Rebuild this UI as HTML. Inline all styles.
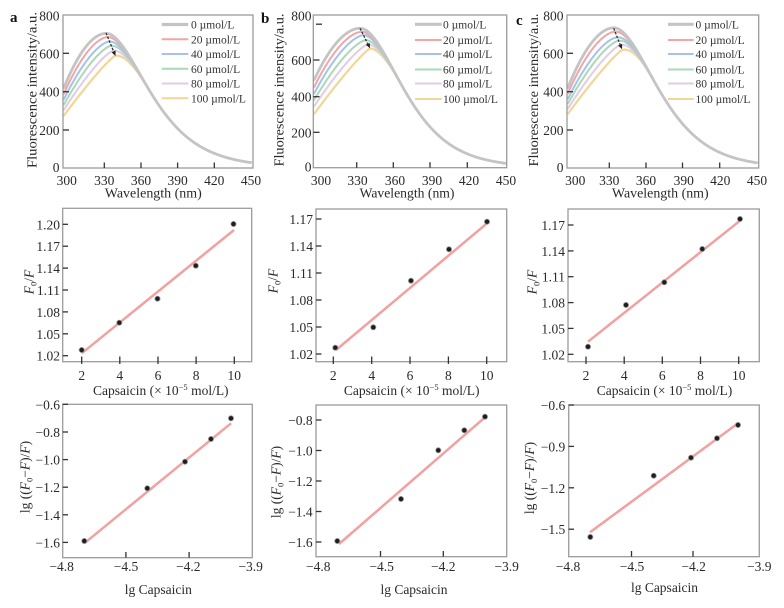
<!DOCTYPE html>
<html><head><meta charset="utf-8">
<style>
html,body{margin:0;padding:0;background:#fff;}
svg{display:block;font-family:"Liberation Serif",serif;}
.t{font-size:13.5px;fill:#2a2a2a;}
.ti{font-size:13.5px;fill:#2a2a2a;}
.lg{font-size:11.5px;fill:#333;}
.pl{font-size:15px;font-weight:bold;fill:#111;}
.box{fill:none;stroke:#9c9c9c;stroke-width:1.3;}
.tk{stroke:#333;stroke-width:1.3;}
.fit{stroke:#f2a0a0;stroke-width:2.5;}
.pt{fill:#1e1e1e;stroke:#9a9a9a;stroke-width:0.8;}
</style></head><body>
<svg id="s" width="784" height="608" viewBox="0 0 784 608" xmlns="http://www.w3.org/2000/svg">
<rect x="0" y="0" width="784" height="608" fill="#fff"/>
<g id="curves"></g>

<!-- ============ TOP ROW ============ -->
<!-- panel a -->
<text class="pl" x="10" y="22">a</text>
<rect class="box" x="63" y="15" width="190" height="153"/>
<g class="tk">
<line x1="63" y1="53.3" x2="69" y2="53.3"/><line x1="63" y1="91.7" x2="69" y2="91.7"/><line x1="63" y1="130" x2="69" y2="130"/>
<line x1="104.3" y1="162.5" x2="104.3" y2="168"/><line x1="141" y1="162.5" x2="141" y2="168"/><line x1="177.6" y1="162.5" x2="177.6" y2="168"/><line x1="214.3" y1="162.5" x2="214.3" y2="168"/>
</g>
<g class="t" text-anchor="end">
<text x="59.5" y="20.7">800</text><text x="59.5" y="58.3">600</text><text x="59.5" y="96.7">400</text><text x="59.5" y="135">200</text><text x="59.5" y="172">0</text>
</g>
<g class="t" text-anchor="middle">
<text x="66.7" y="185">300</text><text x="104.3" y="185">330</text><text x="141" y="185">360</text><text x="177.6" y="185">390</text><text x="214.3" y="185">420</text><text x="251" y="185">450</text>
</g>
<text class="ti" x="153.3" y="197.5" text-anchor="middle" textLength="97" lengthAdjust="spacingAndGlyphs">Wavelength (nm)</text>
<text class="ti" transform="translate(36.5,90) rotate(-90)" text-anchor="middle" textLength="156" lengthAdjust="spacingAndGlyphs">Fluorescence intensity/a.u.</text>
<g stroke-width="2">
<line x1="161.7" y1="24.5" x2="188.3" y2="24.5" stroke="#c4c4c4" stroke-width="3.2"/>
<line x1="161.7" y1="39.3" x2="188.3" y2="39.3" stroke="#f3a5a5"/>
<line x1="161.7" y1="54" x2="188.3" y2="54" stroke="#a5c3ea"/>
<line x1="161.7" y1="68.8" x2="188.3" y2="68.8" stroke="#a9d9b5"/>
<line x1="161.7" y1="83.5" x2="188.3" y2="83.5" stroke="#e3cbe6"/>
<line x1="161.7" y1="98.3" x2="188.3" y2="98.3" stroke="#f1d696"/>
</g>
<g class="lg">
<text x="191" y="28.5">0 µmol/L</text><text x="191" y="43.3">20 µmol/L</text><text x="191" y="58">40 µmol/L</text><text x="191" y="72.8">60 µmol/L</text><text x="191" y="87.5">80 µmol/L</text><text x="191" y="102.3">100 µmol/L</text>
</g>

<!-- panel b -->
<text class="pl" x="261" y="23">b</text>
<rect class="box" x="313.3" y="15" width="193.4" height="152.7"/>
<g class="tk">
<line x1="316" y1="24.2" x2="322" y2="24.2"/><line x1="313.3" y1="60" x2="319.5" y2="60"/><line x1="313.3" y1="96.7" x2="319.5" y2="96.7"/><line x1="313.3" y1="132.3" x2="319.5" y2="132.3"/>
<line x1="356.7" y1="162.2" x2="356.7" y2="167.7"/><line x1="393.3" y1="162.2" x2="393.3" y2="167.7"/><line x1="430" y1="162.2" x2="430" y2="167.7"/><line x1="467.3" y1="162.2" x2="467.3" y2="167.7"/>
</g>
<g class="t" text-anchor="end">
<text x="311.5" y="20.7">800</text><text x="311.5" y="65">600</text><text x="311.5" y="101.7">400</text><text x="311.5" y="137.3">200</text><text x="311.5" y="171.7">0</text>
</g>
<g class="t" text-anchor="middle">
<text x="321" y="185">300</text><text x="357.5" y="185">330</text><text x="395" y="185">360</text><text x="432" y="185">390</text><text x="469" y="185">420</text><text x="506" y="185">450</text>
</g>
<text class="ti" x="407" y="197.5" text-anchor="middle" textLength="95" lengthAdjust="spacingAndGlyphs">Wavelength (nm)</text>
<text class="ti" transform="translate(283.5,90) rotate(-90)" text-anchor="middle" textLength="153" lengthAdjust="spacingAndGlyphs">Fluorescence intensity/a.u.</text>
<g stroke-width="2">
<line x1="415" y1="24.3" x2="441.7" y2="24.3" stroke="#c4c4c4" stroke-width="3.2"/>
<line x1="415" y1="40" x2="441.7" y2="40" stroke="#f3a5a5"/>
<line x1="415" y1="54" x2="441.7" y2="54" stroke="#a5c3ea"/>
<line x1="415" y1="69.5" x2="441.7" y2="69.5" stroke="#a9d9b5"/>
<line x1="415" y1="83.5" x2="441.7" y2="83.5" stroke="#e3cbe6"/>
<line x1="415" y1="99" x2="441.7" y2="99" stroke="#f1d696"/>
</g>
<g class="lg">
<text x="443" y="28.3">0 µmol/L</text><text x="443" y="44">20 µmol/L</text><text x="443" y="58">40 µmol/L</text><text x="443" y="73.5">60 µmol/L</text><text x="443" y="87.5">80 µmol/L</text><text x="443" y="103">100 µmol/L</text>
</g>

<!-- panel c -->
<text class="pl" x="516" y="25">c</text>
<rect class="box" x="567" y="15" width="191.7" height="153"/>
<g class="tk">
<line x1="567" y1="53.3" x2="573" y2="53.3"/><line x1="567" y1="91.7" x2="573" y2="91.7"/><line x1="567" y1="130" x2="573" y2="130"/>
<line x1="609.3" y1="162.5" x2="609.3" y2="168"/><line x1="646" y1="162.5" x2="646" y2="168"/><line x1="682.5" y1="162.5" x2="682.5" y2="168"/><line x1="719.7" y1="162.5" x2="719.7" y2="168"/>
</g>
<g class="t" text-anchor="end">
<text x="563.5" y="20.7">800</text><text x="563.5" y="58.3">600</text><text x="563.5" y="96.7">400</text><text x="563.5" y="135">200</text><text x="563.5" y="172">0</text>
</g>
<g class="t" text-anchor="middle">
<text x="575.3" y="185">300</text><text x="609.3" y="185">330</text><text x="646" y="185">360</text><text x="683.7" y="185">390</text><text x="720.3" y="185">420</text><text x="757" y="185">450</text>
</g>
<text class="ti" x="660.3" y="197.5" text-anchor="middle" textLength="96.7" lengthAdjust="spacingAndGlyphs">Wavelength (nm)</text>
<text class="ti" transform="translate(538,90) rotate(-90)" text-anchor="middle" textLength="153" lengthAdjust="spacingAndGlyphs">Fluorescence intensity/a.u.</text>
<g stroke-width="2">
<line x1="668" y1="24.3" x2="693.7" y2="24.3" stroke="#c4c4c4" stroke-width="3.2"/>
<line x1="668" y1="40" x2="693.7" y2="40" stroke="#f3a5a5"/>
<line x1="668" y1="54" x2="693.7" y2="54" stroke="#a5c3ea"/>
<line x1="668" y1="69.5" x2="693.7" y2="69.5" stroke="#a9d9b5"/>
<line x1="668" y1="83.5" x2="693.7" y2="83.5" stroke="#e3cbe6"/>
<line x1="668" y1="99" x2="693.7" y2="99" stroke="#f1d696"/>
</g>
<g class="lg">
<text x="695.5" y="28.3">0 µmol/L</text><text x="695.5" y="44">20 µmol/L</text><text x="695.5" y="58">40 µmol/L</text><text x="695.5" y="73.5">60 µmol/L</text><text x="695.5" y="87.5">80 µmol/L</text><text x="695.5" y="103">100 µmol/L</text>
</g>

<!-- ============ MIDDLE ROW ============ -->
<!-- a -->
<rect class="box" x="62.7" y="208.3" width="189" height="153.4"/>
<g class="tk">
<line x1="62.7" y1="224.3" x2="68" y2="224.3"/><line x1="62.7" y1="246.2" x2="68" y2="246.2"/><line x1="62.7" y1="268.1" x2="68" y2="268.1"/><line x1="62.7" y1="290" x2="68" y2="290"/><line x1="62.7" y1="311.9" x2="68" y2="311.9"/><line x1="62.7" y1="333.8" x2="68" y2="333.8"/><line x1="62.7" y1="355.7" x2="68" y2="355.7"/>
<line x1="81.7" y1="356.5" x2="81.7" y2="364"/><line x1="119.8" y1="356.5" x2="119.8" y2="364"/><line x1="158" y1="356.5" x2="158" y2="364"/><line x1="196.1" y1="356.5" x2="196.1" y2="364"/><line x1="234.3" y1="356.5" x2="234.3" y2="364"/>
</g>
<g class="t" text-anchor="end">
<text x="60" y="229.3">1.20</text><text x="60" y="251.2">1.17</text><text x="60" y="273.1">1.14</text><text x="60" y="295">1.11</text><text x="60" y="316.9">1.08</text><text x="60" y="338.8">1.05</text><text x="60" y="360.7">1.02</text>
</g>
<g class="t" text-anchor="middle">
<text x="81.7" y="380">2</text><text x="119.8" y="380">4</text><text x="158" y="380">6</text><text x="196.1" y="380">8</text><text x="234.3" y="380">10</text>
</g>
<text class="ti" x="160.8" y="395" text-anchor="middle">Capsaicin (× 10<tspan font-size="8.5" dy="-5">−5</tspan><tspan dy="5"> mol/L)</tspan></text>
<text class="ti" transform="translate(33.5,282) rotate(-90)" text-anchor="middle"><tspan font-style="italic">F</tspan><tspan font-size="8.5" dy="3">0</tspan><tspan dy="-3">/</tspan><tspan font-style="italic">F</tspan></text>
<line class="fit" x1="81.7" y1="353.3" x2="234" y2="230"/>
<g class="pt">
<circle cx="81.7" cy="350" r="2.6"/><circle cx="119.3" cy="322.7" r="2.6"/><circle cx="157.5" cy="298.7" r="2.6"/><circle cx="195.8" cy="265.7" r="2.6"/><circle cx="233.5" cy="224" r="2.6"/>
</g>

<!-- b -->
<rect class="box" x="316" y="209" width="190.7" height="152.7"/>
<g class="tk">
<line x1="316" y1="219" x2="321.5" y2="219"/><line x1="316" y1="246" x2="321.5" y2="246"/><line x1="316" y1="273" x2="321.5" y2="273"/><line x1="316" y1="300" x2="321.5" y2="300"/><line x1="316" y1="327" x2="321.5" y2="327"/><line x1="316" y1="354" x2="321.5" y2="354"/>
<line x1="333.3" y1="356.5" x2="333.3" y2="364"/><line x1="371.7" y1="356.5" x2="371.7" y2="364"/><line x1="410" y1="356.5" x2="410" y2="364"/><line x1="448.4" y1="356.5" x2="448.4" y2="364"/><line x1="486.7" y1="356.5" x2="486.7" y2="364"/>
</g>
<g class="t" text-anchor="end">
<text x="313" y="224">1.17</text><text x="313" y="251">1.14</text><text x="313" y="278">1.11</text><text x="313" y="305">1.08</text><text x="313" y="332">1.05</text><text x="313" y="359">1.02</text>
</g>
<g class="t" text-anchor="middle">
<text x="333.3" y="380">2</text><text x="371.7" y="380">4</text><text x="410" y="380">6</text><text x="448.4" y="380">8</text><text x="486.7" y="380">10</text>
</g>
<text class="ti" x="411.7" y="395" text-anchor="middle">Capsaicin (× 10<tspan font-size="8.5" dy="-5">−5</tspan><tspan dy="5"> mol/L)</tspan></text>
<text class="ti" transform="translate(277.5,281) rotate(-90)" text-anchor="middle"><tspan font-style="italic">F</tspan><tspan font-size="8.5" dy="3">0</tspan><tspan dy="-3">/</tspan><tspan font-style="italic">F</tspan></text>
<line class="fit" x1="336" y1="350" x2="487" y2="223.3"/>
<g class="pt">
<circle cx="335.3" cy="347.7" r="2.6"/><circle cx="373.3" cy="327.3" r="2.6"/><circle cx="411" cy="280.7" r="2.6"/><circle cx="449" cy="249.3" r="2.6"/><circle cx="487" cy="221.7" r="2.6"/>
</g>

<!-- c -->
<rect class="box" x="568" y="209" width="191.3" height="152.7"/>
<g class="tk">
<line x1="568" y1="225" x2="573.5" y2="225"/><line x1="568" y1="250.9" x2="573.5" y2="250.9"/><line x1="568" y1="276.7" x2="573.5" y2="276.7"/><line x1="568" y1="302.6" x2="573.5" y2="302.6"/><line x1="568" y1="328.4" x2="573.5" y2="328.4"/><line x1="568" y1="354.3" x2="573.5" y2="354.3"/>
<line x1="586" y1="356.5" x2="586" y2="364"/><line x1="624.2" y1="356.5" x2="624.2" y2="364"/><line x1="662.3" y1="356.5" x2="662.3" y2="364"/><line x1="700.5" y1="356.5" x2="700.5" y2="364"/><line x1="738.7" y1="356.5" x2="738.7" y2="364"/>
</g>
<g class="t" text-anchor="end">
<text x="565" y="230">1.17</text><text x="565" y="255.9">1.14</text><text x="565" y="281.7">1.11</text><text x="565" y="307.6">1.08</text><text x="565" y="333.4">1.05</text><text x="565" y="359.3">1.02</text>
</g>
<g class="t" text-anchor="middle">
<text x="586" y="380">2</text><text x="624.2" y="380">4</text><text x="662.3" y="380">6</text><text x="700.5" y="380">8</text><text x="738.7" y="380">10</text>
</g>
<text class="ti" x="664.5" y="395" text-anchor="middle">Capsaicin (× 10<tspan font-size="8.5" dy="-5">−5</tspan><tspan dy="5"> mol/L)</tspan></text>
<text class="ti" transform="translate(536.5,282) rotate(-90)" text-anchor="middle"><tspan font-style="italic">F</tspan><tspan font-size="8.5" dy="3">0</tspan><tspan dy="-3">/</tspan><tspan font-style="italic">F</tspan></text>
<line class="fit" x1="588" y1="341.7" x2="740" y2="220.7"/>
<g class="pt">
<circle cx="588" cy="346.7" r="2.6"/><circle cx="626" cy="305" r="2.6"/><circle cx="664.3" cy="282.3" r="2.6"/><circle cx="702.3" cy="249" r="2.6"/><circle cx="740" cy="219" r="2.6"/>
</g>

<!-- ============ BOTTOM ROW ============ -->
<!-- a -->
<rect class="box" x="62.7" y="404.3" width="189.6" height="153.4"/>
<g class="tk">
<line x1="62.7" y1="404.3" x2="68" y2="404.3"/><line x1="62.7" y1="432" x2="68" y2="432"/><line x1="62.7" y1="459.6" x2="68" y2="459.6"/><line x1="62.7" y1="487.2" x2="68" y2="487.2"/><line x1="62.7" y1="514.8" x2="68" y2="514.8"/><line x1="62.7" y1="542.4" x2="68" y2="542.4"/>
<line x1="125.9" y1="552" x2="125.9" y2="557.7"/><line x1="189.1" y1="552" x2="189.1" y2="557.7"/>
</g>
<g class="t" text-anchor="end">
<text x="60" y="409.3">−0.6</text><text x="60" y="437">−0.8</text><text x="60" y="464.6">−1.0</text><text x="60" y="492.2">−1.2</text><text x="60" y="519.8">−1.4</text><text x="60" y="547.4">−1.6</text>
</g>
<g class="t" text-anchor="middle">
<text x="61.7" y="571">−4.8</text><text x="126" y="571">−4.5</text><text x="188.3" y="571">−4.2</text><text x="250.7" y="571">−3.9</text>
</g>
<text class="ti" x="158.3" y="594" text-anchor="middle">lg Capsaicin</text>
<text class="ti" transform="translate(29.5,477) rotate(-90)" text-anchor="middle">lg ((<tspan font-style="italic">F</tspan><tspan font-size="8.5" dy="3">0</tspan><tspan dy="-3">−</tspan><tspan font-style="italic">F</tspan>)/<tspan font-style="italic">F</tspan>)</text>
<line class="fit" x1="84.3" y1="543.3" x2="231" y2="423.3"/>
<g class="pt">
<circle cx="84.3" cy="541" r="2.6"/><circle cx="147.3" cy="488.3" r="2.6"/><circle cx="185" cy="461.7" r="2.6"/><circle cx="211" cy="439" r="2.6"/><circle cx="231" cy="418.3" r="2.6"/>
</g>

<!-- b -->
<rect class="box" x="316" y="405" width="190.7" height="151.7"/>
<g class="tk">
<line x1="316" y1="420" x2="321.5" y2="420"/><line x1="316" y1="450.5" x2="321.5" y2="450.5"/><line x1="316" y1="481" x2="321.5" y2="481"/><line x1="316" y1="511.5" x2="321.5" y2="511.5"/><line x1="316" y1="542" x2="321.5" y2="542"/>
<line x1="380.5" y1="551" x2="380.5" y2="556.7"/><line x1="443.3" y1="551" x2="443.3" y2="556.7"/>
</g>
<g class="t" text-anchor="end">
<text x="312.7" y="425">−0.8</text><text x="312.7" y="455.5">−1.0</text><text x="312.7" y="486">−1.2</text><text x="312.7" y="516.5">−1.4</text><text x="312.7" y="547">−1.6</text>
</g>
<g class="t" text-anchor="middle">
<text x="318.3" y="571">−4.8</text><text x="381.7" y="571">−4.5</text><text x="443.3" y="571">−4.2</text><text x="506.7" y="571">−3.9</text>
</g>
<text class="ti" x="414" y="594" text-anchor="middle">lg Capsaicin</text>
<text class="ti" transform="translate(280.5,482) rotate(-90)" text-anchor="middle">lg ((<tspan font-style="italic">F</tspan><tspan font-size="8.5" dy="3">0</tspan><tspan dy="-3">−</tspan><tspan font-style="italic">F</tspan>)/<tspan font-style="italic">F</tspan>)</text>
<line class="fit" x1="339" y1="544" x2="485" y2="417.3"/>
<g class="pt">
<circle cx="337.3" cy="541" r="2.6"/><circle cx="401" cy="499" r="2.6"/><circle cx="438.3" cy="450.3" r="2.6"/><circle cx="464.3" cy="430.3" r="2.6"/><circle cx="485" cy="416.7" r="2.6"/>
</g>

<!-- c -->
<rect class="box" x="568.7" y="405" width="190.6" height="151.7"/>
<g class="tk">
<line x1="568.7" y1="405" x2="574" y2="405"/><line x1="568.7" y1="446.4" x2="574" y2="446.4"/><line x1="568.7" y1="487.8" x2="574" y2="487.8"/><line x1="568.7" y1="529.2" x2="574" y2="529.2"/>
<line x1="631.5" y1="551" x2="631.5" y2="556.7"/><line x1="693" y1="551" x2="693" y2="556.7"/>
</g>
<g class="t" text-anchor="end">
<text x="565.3" y="410">−0.6</text><text x="565.3" y="451.4">−0.9</text><text x="565.3" y="492.8">−1.2</text><text x="565.3" y="534.2">−1.5</text>
</g>
<g class="t" text-anchor="middle">
<text x="568" y="571">−4.8</text><text x="632" y="571">−4.5</text><text x="693.7" y="571">−4.2</text><text x="759.3" y="571">−3.9</text>
</g>
<text class="ti" x="664.5" y="592" text-anchor="middle">lg Capsaicin</text>
<text class="ti" transform="translate(534,478) rotate(-90)" text-anchor="middle">lg ((<tspan font-style="italic">F</tspan><tspan font-size="8.5" dy="3">0</tspan><tspan dy="-3">−</tspan><tspan font-style="italic">F</tspan>)/<tspan font-style="italic">F</tspan>)</text>
<line class="fit" x1="590" y1="532.3" x2="738" y2="423.3"/>
<g class="pt">
<circle cx="590.3" cy="537" r="2.6"/><circle cx="653.7" cy="475.7" r="2.6"/><circle cx="691" cy="457.7" r="2.6"/><circle cx="717" cy="438.3" r="2.6"/><circle cx="738" cy="425" r="2.6"/>
</g>
</svg>
<script>
(function(){
var NS='http://www.w3.org/2000/svg';
var G=document.getElementById('curves');
function add(tag,a){var e=document.createElementNS(NS,tag);for(var k in a)e.setAttribute(k,a[k]);G.appendChild(e);return e;}
var cols=['#c4c4c4','#f3a5a5','#a5c3ea','#a9d9b5','#e3cbe6','#f1d696'];
var wid=[2.8,2,2,2,2,2.2];
var P=[
 {x0:63,x1:253,xc:104.3,k:1.2222,y0:168,ys:0.19125,tp:331.4,tP:704,w0:40,wk:0.22,
  c:[[331.4,704,408,1.9],[333,685,378,1.75],[334.5,662,350,1.6],[335.8,640,323,1.45],[337.3,614,297,1.3],[338.8,587,268,1.15]],
  ar:[106,33,115.5,56]},
 {x0:313.3,x1:506.7,xc:356.7,k:1.2289,y0:167.7,ys:0.1794,tp:332.7,tP:777,w0:40,wk:0.2,
  c:[[332.7,777,479,1.9],[334.3,758,440,1.75],[335.9,740,405,1.6],[337.5,712,370,1.45],[339.1,688,335,1.3],[340.8,665,294,1.15]],
  ar:[360,28.3,370,48.3]},
 {x0:567,x1:758.7,xc:609.3,k:1.2267,y0:168,ys:0.19125,tp:333.6,tP:733,w0:41,wk:0.2,
  c:[[333.6,733,408,1.9],[335,713,380,1.75],[336.4,683,352,1.6],[337.7,666,328,1.45],[339,643,303,1.3],[340.4,617,277,1.15]],
  ar:[613.7,28.3,622,49.3]}
];
function tail(p,l){var d=l-p.tp,w=p.w0+p.wk*Math.abs(d);return p.tP*Math.exp(-(d/w)*(d/w));}
function val(p,c,l,lmin){
 if(l<=c[0]){var t=(l-lmin)/(c[0]-lmin);if(t<0)t=0;return c[1]-(c[1]-c[2])*Math.pow(1-t,c[3]);}
 var v=tail(p,l);
 if(l<365){var tv=tail(p,c[0]);v-=(tv-c[1])*Math.pow((365-l)/(365-c[0]),1.8);}
 return v;
}
P.forEach(function(p){
 var lmin=330+(p.x0-p.xc)/p.k;
 for(var i=5;i>=0;i--){
  var c=p.c[i],pts=[];
  for(var x=p.x0+0.6;x<=p.x1-0.6;x+=1){
   var l=330+(x-p.xc)/p.k;
   var y=p.y0-val(p,c,l,lmin)*p.ys;
   pts.push(x.toFixed(1)+','+y.toFixed(2));
  }
  add('polyline',{points:pts.join(' '),fill:'none',stroke:cols[i],'stroke-width':wid[i],'stroke-linejoin':'round'});
 }
 var a=p.ar,dx=a[2]-a[0],dy=a[3]-a[1],L=Math.sqrt(dx*dx+dy*dy),ux=dx/L,uy=dy/L;
 var bx=a[2]-ux*5,by=a[3]-uy*5;
 add('line',{x1:a[0],y1:a[1],x2:bx,y2:by,stroke:'#333','stroke-width':1.3,'stroke-dasharray':'2.5 1.5'});
 add('polygon',{points:a[2]+','+a[3]+' '+(bx-uy*2.2)+','+(by+ux*2.2)+' '+(bx+uy*2.2)+','+(by-ux*2.2),fill:'#222'});
});
})();
</script>
</body></html>
